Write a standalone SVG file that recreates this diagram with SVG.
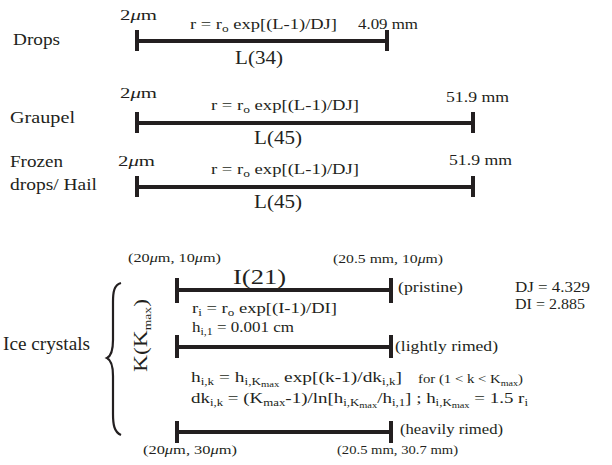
<svg xmlns="http://www.w3.org/2000/svg" width="612" height="465" viewBox="0 0 612 465">
<style>
text{font-family:"Liberation Serif","Times New Roman",serif;fill:#231f20}
.lab{font-size:17px}
.f{font-size:14.5px}
.num{font-size:14.5px}
.big{font-size:18px}
.sm{font-size:13px}
.bar{fill:none;stroke:#231f20;stroke-width:4;stroke-linecap:butt}
.brace{fill:none;stroke:#231f20;stroke-width:2.2}
.s{font-size:10.5px}
.ss{font-size:8.5px}
</style>
<rect width="612" height="465" fill="#fff"/>
<g id="drops">
<text class="lab" x="13" y="45" textLength="47" lengthAdjust="spacingAndGlyphs">Drops</text>
<text class="num" x="120" y="20" textLength="37" lengthAdjust="spacingAndGlyphs">2<tspan font-style="italic">μ</tspan>m</text>
<text class="f" x="190" y="29" textLength="147" lengthAdjust="spacingAndGlyphs">r = r<tspan class="s" dy="3">o</tspan><tspan dy="-3"> exp[(L-1)/DJ]</tspan></text>
<text class="num" x="358" y="29" textLength="60" lengthAdjust="spacingAndGlyphs">4.09 mm</text>
<path class="bar" d="M137 41H387M137 30V51M387 30V51"/>
<text class="big" x="235" y="64" textLength="48" lengthAdjust="spacingAndGlyphs">L(34)</text>
</g>
<g id="graupel">
<text class="lab" x="10" y="123" textLength="65" lengthAdjust="spacingAndGlyphs">Graupel</text>
<text class="num" x="120" y="98" textLength="37" lengthAdjust="spacingAndGlyphs">2<tspan font-style="italic">μ</tspan>m</text>
<text class="f" x="211" y="110" textLength="148" lengthAdjust="spacingAndGlyphs">r = r<tspan class="s" dy="3">o</tspan><tspan dy="-3"> exp[(L-1)/DJ]</tspan></text>
<text class="num" x="446" y="102" textLength="63" lengthAdjust="spacingAndGlyphs">51.9 mm</text>
<path class="bar" d="M137 123H473M137 112V133M473 112V133"/>
<text class="big" x="254" y="144" textLength="48" lengthAdjust="spacingAndGlyphs">L(45)</text>
</g>
<g id="frozen-drops-hail">
<text class="lab" x="10" y="167" textLength="53" lengthAdjust="spacingAndGlyphs">Frozen</text>
<text class="lab" x="10" y="190" textLength="87" lengthAdjust="spacingAndGlyphs">drops/ Hail</text>
<text class="num" x="118" y="166" textLength="37" lengthAdjust="spacingAndGlyphs">2<tspan font-style="italic">μ</tspan>m</text>
<text class="f" x="211" y="174" textLength="148" lengthAdjust="spacingAndGlyphs">r = r<tspan class="s" dy="3">o</tspan><tspan dy="-3"> exp[(L-1)/DJ]</tspan></text>
<text class="num" x="449" y="165" textLength="63" lengthAdjust="spacingAndGlyphs">51.9 mm</text>
<path class="bar" d="M137 187H473M137 176V197M473 176V197"/>
<text class="big" x="254" y="208" textLength="48" lengthAdjust="spacingAndGlyphs">L(45)</text>
</g>
<g id="ice-crystals">
<text class="big" x="3" y="350" textLength="87" lengthAdjust="spacingAndGlyphs">Ice crystals</text>
<path class="brace" d="M121 283C114 285 113 292 113 302L113 340C113 350 111 356 107 358C111 360 113 366 113 376L113 414C113 424 114 432 121 435"/>
<text class="big" transform="translate(147 372) rotate(-90)" textLength="73" lengthAdjust="spacingAndGlyphs">K(K<tspan class="s" font-size="12px" dy="4">max</tspan><tspan dy="-4">)</tspan></text>
<text class="sm" x="128" y="262" textLength="93" lengthAdjust="spacingAndGlyphs">(20<tspan font-style="italic">μ</tspan>m, 10<tspan font-style="italic">μ</tspan>m)</text>
<text class="sm" x="333" y="263" textLength="110" lengthAdjust="spacingAndGlyphs">(20.5 mm, 10<tspan font-style="italic">μ</tspan>m)</text>
<text x="233" y="284" font-size="21" textLength="53" lengthAdjust="spacingAndGlyphs">I(21)</text>
<path class="bar" d="M177 290H391M177 278V303M391 278V303"/>
<text x="398" y="292" font-size="15.5" textLength="65" lengthAdjust="spacingAndGlyphs">(pristine)</text>
<text x="515" y="292" font-size="14.5" textLength="75" lengthAdjust="spacingAndGlyphs">DJ = 4.329</text>
<text x="515" y="309" font-size="14.5" textLength="70" lengthAdjust="spacingAndGlyphs">DI = 2.885</text>
<text x="192" y="313" font-size="15" textLength="145" lengthAdjust="spacingAndGlyphs">r<tspan class="s" dy="3">i</tspan><tspan dy="-3"> = r</tspan><tspan class="s" dy="3">o</tspan><tspan dy="-3"> exp[(I-1)/DI]</tspan></text>
<text x="192" y="332" font-size="15" textLength="102" lengthAdjust="spacingAndGlyphs">h<tspan class="s" dy="3">i,1</tspan><tspan dy="-3"> = 0.001 cm</tspan></text>
<path class="bar" d="M177 347H391M177 335V358M391 335V358"/>
<text x="395" y="351" font-size="15.5" textLength="103" lengthAdjust="spacingAndGlyphs">(lightly rimed)</text>
<text x="191" y="382" font-size="15.5" textLength="211" lengthAdjust="spacingAndGlyphs">h<tspan class="s" dy="3">i,k</tspan><tspan dy="-3"> = h</tspan><tspan class="s" dy="3">i,K</tspan><tspan class="ss" dy="2">max</tspan><tspan dy="-5"> exp[(k-1)/dk</tspan><tspan class="s" dy="3">i,k</tspan><tspan dy="-3">]</tspan></text>
<text x="418" y="383" font-size="12.5" textLength="105" lengthAdjust="spacingAndGlyphs">for (1 &lt; k &lt; K<tspan class="ss" dy="3">max</tspan><tspan dy="-3">)</tspan></text>
<text x="191" y="403" font-size="15.5" textLength="337" lengthAdjust="spacingAndGlyphs">dk<tspan class="s" dy="3">i,k</tspan><tspan dy="-3"> = (K</tspan><tspan class="s" dy="3">max</tspan><tspan dy="-3">-1)/ln[h</tspan><tspan class="s" dy="3">i,K</tspan><tspan class="ss" dy="2">max</tspan><tspan dy="-5">/h</tspan><tspan class="s" dy="3">i,1</tspan><tspan dy="-3">] ;  h</tspan><tspan class="s" dy="3">i,K</tspan><tspan class="ss" dy="2">max</tspan><tspan dy="-5"> = 1.5 r</tspan><tspan class="s" dy="3">i</tspan></text>
<path class="bar" d="M177 432H391M177 421V443M391 421V443"/>
<text x="400" y="434" font-size="15.5" textLength="103" lengthAdjust="spacingAndGlyphs">(heavily rimed)</text>
<text class="sm" x="143" y="454" textLength="94" lengthAdjust="spacingAndGlyphs">(20<tspan font-style="italic">μ</tspan>m, 30<tspan font-style="italic">μ</tspan>m)</text>
<text class="sm" x="337" y="454" textLength="121" lengthAdjust="spacingAndGlyphs">(20.5 mm, 30.7 mm)</text>
</g>
</svg>
